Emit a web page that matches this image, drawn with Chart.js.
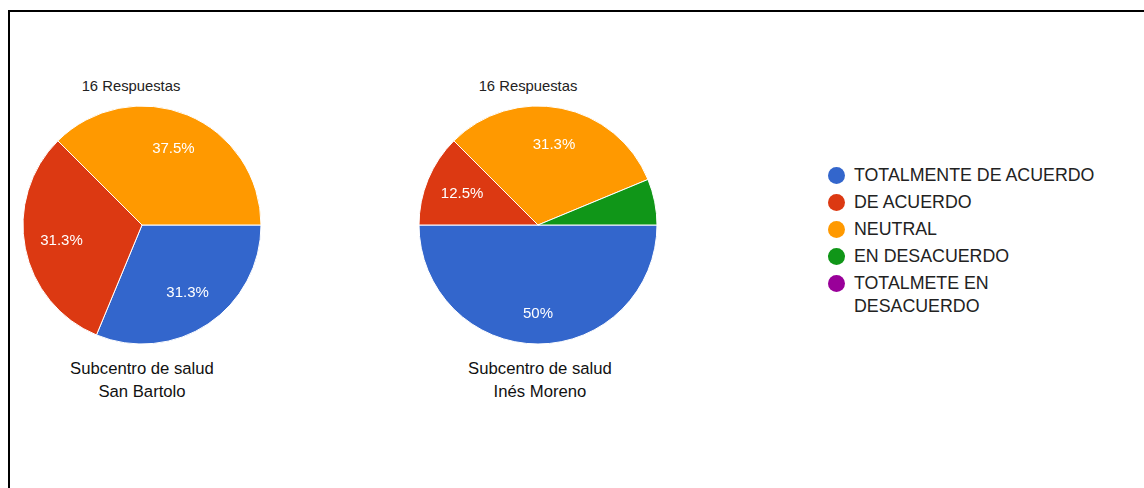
<!DOCTYPE html>
<html>
<head>
<meta charset="utf-8">
<script src="https://cdn.jsdelivr.net/npm/chart.js@4/dist/chart.umd.min.js"></script>
<style>
  html, body { margin: 0; padding: 0; background: #fff; }
  body { width: 1144px; height: 488px; position: relative; overflow: hidden;
         font-family: "Liberation Sans", Arial, sans-serif; color: #222; }
  .frame { position: absolute; left: 8px; top: 10px; right: -4px; bottom: -4px;
           border: 2px solid #000; }
  .pie { position: absolute; top: 95px; width: 260px; height: 260px; }
  .resp { position: absolute; top: 78px; width: 200px; text-align: center; font-size: 14.8px; }
  .site { position: absolute; top: 357px; width: 220px; text-align: center; font-size: 16.7px;
          line-height: 23px; color: #111; }
  .legend { position: absolute; left: 828px; top: 164px; font-size: 17.8px; color: #222; }
  .legend .item { position: relative; padding-left: 26px; line-height: 23px; margin-bottom: 4px; width: 290px; }
  .legend .dot { position: absolute; left: 0; top: 3px; width: 17px; height: 17px; border-radius: 50%; }
</style>
</head>
<body>
<div class="frame"></div>

<div class="resp" style="left:31px">16 Respuestas</div>
<div class="resp" style="left:428px">16 Respuestas</div>

<canvas id="pie-sb" class="pie" width="260" height="260" style="left:12px"></canvas>
<canvas id="pie-im" class="pie" width="260" height="260" style="left:408px"></canvas>

<div class="site" style="left:32px">Subcentro de salud<br>San Bartolo</div>
<div class="site" style="left:430px">Subcentro de salud<br>Inés Moreno</div>

<div class="legend" id="legend"></div>

<script>
// answer categories (legend order)
var categories = ['TOTALMENTE DE ACUERDO', 'DE ACUERDO', 'NEUTRAL', 'EN DESACUERDO', 'TOTALMETE EN DESACUERDO'];
var colors = ['#3366cc', '#dc3912', '#ff9900', '#109618', '#990099'];

// counts out of 16 responses per health centre
var sanBartolo = [5, 5, 6, 0, 0];
var inesMoreno = [8, 2, 5, 1, 0];

function pctText(v, total) {
  var p = (v / total * 100).toFixed(1);
  return p.replace(/\.0$/, '') + '%';
}

// white % labels inside the slices, hidden for thin slices
var sliceLabels = {
  id: 'sliceLabels',
  afterDatasetsDraw: function (chart) {
    var ctx = chart.ctx;
    var ds = chart.data.datasets[0];
    var total = ds.data.reduce(function (a, b) { return a + b; }, 0);
    var meta = chart.getDatasetMeta(0);
    ctx.save();
    ctx.font = '15px "Liberation Sans", Arial, sans-serif';
    ctx.fillStyle = '#fff';
    ctx.textAlign = 'center';
    ctx.textBaseline = 'middle';
    meta.data.forEach(function (arc, i) {
      var v = ds.data[i];
      if (!v || v / total < 0.1) return;
      var mid = (arc.startAngle + arc.endAngle) / 2;
      // bigger slices push their label a bit further out
      var r = arc.outerRadius * (v / total >= 0.5 ? 0.75 : 0.69);
      ctx.fillText(pctText(v, total), arc.x + Math.cos(mid) * r, arc.y + Math.sin(mid) * r);
    });
    ctx.restore();
  }
};

function makePie(id, values) {
  return new Chart(document.getElementById(id), {
    type: 'pie',
    data: {
      labels: categories,
      datasets: [{
        data: values,
        backgroundColor: colors,
        borderColor: '#fff',
        borderWidth: 1
      }]
    },
    options: {
      responsive: false,
      animation: false,
      rotation: 90,
      radius: 119,
      layout: { padding: 0 },
      plugins: { legend: { display: false }, tooltip: { enabled: false } }
    },
    plugins: [sliceLabels]
  });
}

makePie('pie-sb', sanBartolo);
makePie('pie-im', inesMoreno);

// legend
var leg = document.getElementById('legend');
categories.forEach(function (name, i) {
  var item = document.createElement('div');
  item.className = 'item';
  item.innerHTML = '<span class="dot" style="background:' + colors[i] + '"></span>'
    + name.replace('TOTALMETE EN ', 'TOTALMETE EN<br>');
  leg.appendChild(item);
});
</script>
</body>
</html>
